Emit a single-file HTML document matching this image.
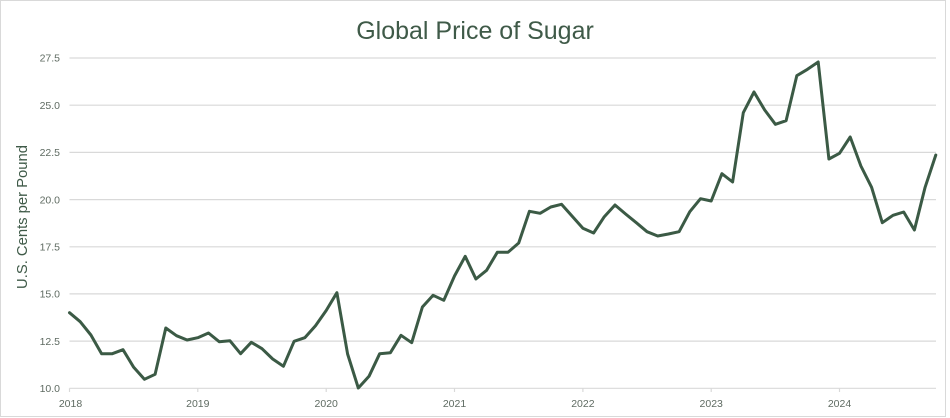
<!DOCTYPE html>
<html><head><meta charset="utf-8"><style>
html,body{margin:0;padding:0;background:#fff;}
svg{display:block;}
</style></head><body>
<svg width="950" height="418" viewBox="0 0 950 418" xmlns="http://www.w3.org/2000/svg">
<rect x="0.5" y="0.5" width="945" height="416" fill="#fff" stroke="#d9d9d9" stroke-width="1"/>
<text x="475" y="39" text-anchor="middle" font-family="Liberation Sans, sans-serif" font-size="25" fill="#3f5a48">Global Price of Sugar</text>
<text transform="translate(27,217) rotate(-90)" text-anchor="middle" font-family="Liberation Sans, sans-serif" font-size="14.8" fill="#3f5a48">U.S. Cents per Pound</text>
<g stroke="#d9d9d9" stroke-width="1.2">
<line x1="69.5" x2="936" y1="58" y2="58"/>
<line x1="69.5" x2="936" y1="105.2" y2="105.2"/>
<line x1="69.5" x2="936" y1="152.4" y2="152.4"/>
<line x1="69.5" x2="936" y1="199.6" y2="199.6"/>
<line x1="69.5" x2="936" y1="246.8" y2="246.8"/>
<line x1="69.5" x2="936" y1="293.9" y2="293.9"/>
<line x1="69.5" x2="936" y1="341.1" y2="341.1"/>
<line x1="69.5" x2="936" y1="388.3" y2="388.3"/>
<line x1="69.5" x2="69.5" y1="388.3" y2="392"/>
<line x1="197.8" x2="197.8" y1="388.3" y2="392"/>
<line x1="326.2" x2="326.2" y1="388.3" y2="392"/>
<line x1="454.5" x2="454.5" y1="388.3" y2="392"/>
<line x1="582.9" x2="582.9" y1="388.3" y2="392"/>
<line x1="711.2" x2="711.2" y1="388.3" y2="392"/>
<line x1="839.5" x2="839.5" y1="388.3" y2="392"/>
</g>
<g font-family="Liberation Sans, sans-serif" font-size="10.5" fill="#5f6b62" text-anchor="end">
<text x="60" y="61.7">27.5</text>
<text x="60" y="108.9">25.0</text>
<text x="60" y="156.1">22.5</text>
<text x="60" y="203.3">20.0</text>
<text x="60" y="250.5">17.5</text>
<text x="60" y="297.6">15.0</text>
<text x="60" y="344.8">12.5</text>
<text x="60" y="392">10.0</text>
</g>
<g font-family="Liberation Sans, sans-serif" font-size="10.5" fill="#5f6b62" text-anchor="middle">
<text x="70.5" y="407">2018</text>
<text x="197.8" y="407">2019</text>
<text x="326.2" y="407">2020</text>
<text x="454.5" y="407">2021</text>
<text x="582.9" y="407">2022</text>
<text x="711.2" y="407">2023</text>
<text x="839.5" y="407">2024</text>
</g>
<polyline fill="none" stroke="#3b5a45" stroke-width="3" stroke-linejoin="round" stroke-linecap="round" points="
69.5,312.7 80.2,321.7 90.9,335 101.6,353.7 112.3,353.7 123.0,349.7 133.7,367.3 144.4,379.3 155.1,374.3 165.8,328
176.5,335.7 187.1,340 197.8,337.7 208.5,333 219.2,341.7 229.9,340.7 240.6,353.7 251.3,342.3 262.0,348.7 272.7,359
283.4,366.3 294.1,341.3 304.8,337.7 315.5,325.7 326.2,310.5 336.9,292.7 347.6,354 358.3,388 369.0,376.3 379.7,353.7
390.4,352.7 401.0,335.3 411.7,342.7 422.4,307 433.1,295.3 443.8,300.3 454.5,276 465.2,256.3 475.9,279 486.6,270.3
497.3,252.3 508.0,252.3 518.7,243 529.4,211.3 540.1,213.3 550.8,207 561.5,204.3 572.2,216.3 582.9,228.3 593.6,233
604.3,216.7 615.0,205 625.6,214 636.3,222.7 647.0,231.7 657.7,236 668.4,234 679.1,231.7 689.8,211.7 700.5,198.7
711.2,201 721.9,173.7 732.6,182 743.3,112.7 754.0,92 764.7,110 775.4,124.3 786.1,120.7 796.8,75.7 807.5,69.3
818.2,62 828.9,159 839.5,153.3 850.2,137 860.9,166 871.6,187.3 882.3,222.7 893.0,215.3 903.7,212 914.4,230
925.1,187.3 935.8,155"/>
</svg>
</body></html>
